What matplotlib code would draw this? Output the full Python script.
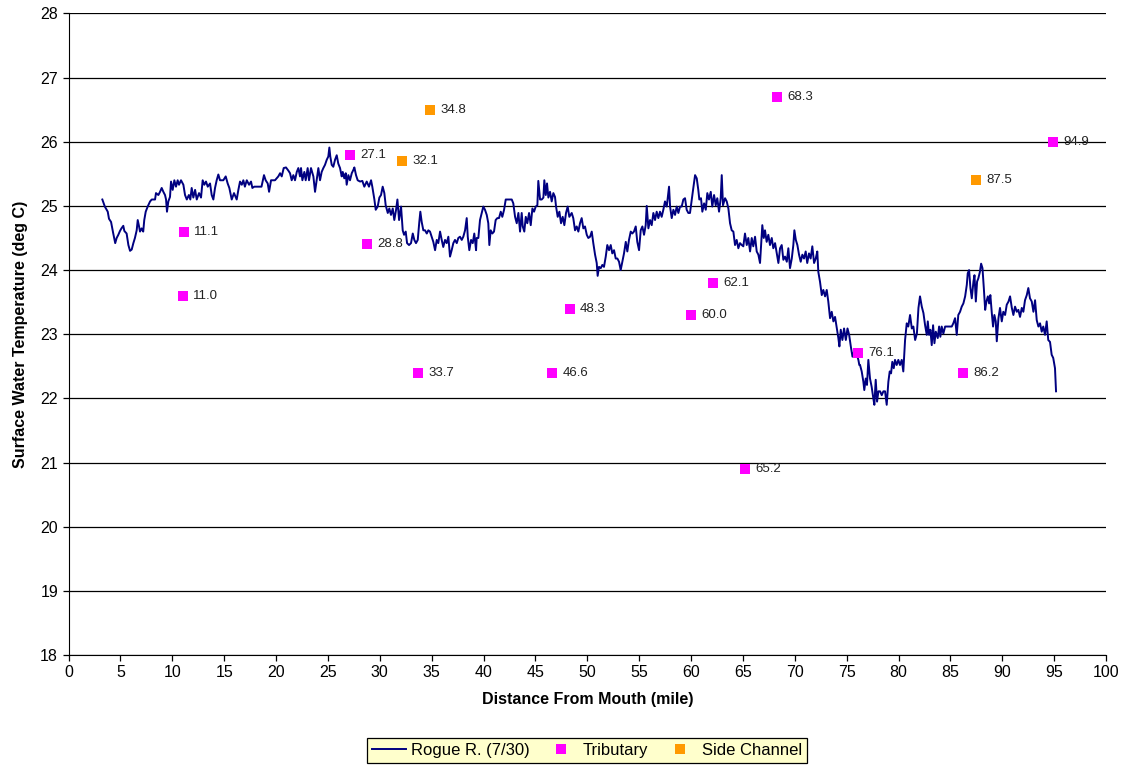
import matplotlib
matplotlib.use('Agg')
import matplotlib.pyplot as plt

plt.rcParams['font.family'] = ['Liberation Sans', 'DejaVu Sans']

# Rogue R. (7/30) longitudinal temperature trace
river_mile = [
    3.26, 3.50, 3.78, 3.90, 4.10, 4.30, 4.50, 4.64, 4.80, 4.96, 5.10, 5.28, 5.38, 5.60, 5.77, 5.93,
    6.09, 6.25, 6.40, 6.57, 6.67, 6.80, 6.89, 7.05, 7.20, 7.30, 7.44, 7.63, 7.86, 8.02, 8.34, 8.43,
    8.66, 8.82, 8.98, 9.14, 9.30, 9.40, 9.49, 9.62, 9.78, 9.88, 10.04, 10.20, 10.36, 10.52, 10.65,
    10.84, 11.07, 11.23, 11.40, 11.60, 11.74, 11.87, 12.03, 12.20, 12.36, 12.58, 12.77, 12.93, 13.09,
    13.25, 13.42, 13.64, 13.80, 13.96, 14.12, 14.28, 14.44, 14.60, 14.92, 15.15, 15.34, 15.50, 15.73,
    15.95, 16.21, 16.37, 16.53, 16.70, 16.85, 17.00, 17.18, 17.40, 17.59, 17.72, 17.90, 18.30, 18.60,
    18.84, 19.00, 19.20, 19.33, 19.52, 19.90, 20.22, 20.39, 20.55, 20.74, 20.96, 21.19,
    21.35, 21.51, 21.67, 21.83, 22.00, 22.15, 22.31, 22.41, 22.54, 22.73, 22.86, 23.05, 23.18, 23.37,
    23.60, 23.76, 23.92, 24.08, 24.24, 24.40, 24.56, 24.72, 24.89, 25.04, 25.14, 25.23, 25.37, 25.52,
    25.69, 25.85, 26.00, 26.17, 26.33, 26.43, 26.58, 26.72, 26.81, 26.97, 27.13, 27.30, 27.45, 27.55,
    27.71, 27.87, 28.10, 28.32, 28.51, 28.74, 28.96, 29.16, 29.28, 29.48, 29.61, 29.80, 29.96, 30.12,
    30.28, 30.44, 30.57, 30.77, 30.92, 31.08, 31.25, 31.40, 31.57, 31.70, 31.86, 32.05, 32.21, 32.34,
    32.50, 32.63, 32.82, 33.01, 33.18, 33.33, 33.49, 33.66, 33.81, 33.91, 34.04, 34.20, 34.36, 34.53,
    34.68, 34.84, 35.00, 35.16, 35.33, 35.49, 35.64, 35.81, 35.97, 36.12, 36.29, 36.45, 36.61, 36.77,
    36.93, 37.09, 37.25, 37.42, 37.57, 37.73, 37.90, 38.05, 38.22, 38.38, 38.48, 38.63, 38.80, 38.96,
    39.11, 39.28,
    39.34, 39.50, 39.66, 39.83, 39.98, 40.14, 40.31, 40.46, 40.56, 40.69, 40.85, 41.01, 41.17, 41.33,
    41.49, 41.66, 41.81, 41.98, 42.14, 42.39, 42.72, 42.87, 43.04, 43.20, 43.36, 43.52, 43.68, 43.78,
    43.93, 44.07, 44.22, 44.39, 44.55, 44.71, 44.87, 45.03, 45.19, 45.28, 45.45, 45.61, 45.77, 45.86,
    46.00, 46.12, 46.25, 46.41, 46.57, 46.73, 46.89, 46.99, 47.15, 47.31, 47.47, 47.63, 47.79, 47.95,
    48.11, 48.27, 48.50, 48.65, 48.82, 48.98, 49.14, 49.30, 49.46, 49.62, 49.78, 49.95, 50.10, 50.27,
    50.43, 50.58, 50.75, 50.91, 51.00, 51.13, 51.30, 51.45, 51.61, 51.78, 51.93, 52.10, 52.26, 52.41,
    52.58, 52.74, 52.90, 53.06, 53.22, 53.38, 53.54, 53.71, 53.86, 54.02, 54.19, 54.34, 54.50, 54.67,
    54.82, 54.99, 55.15, 55.31, 55.47, 55.63, 55.73, 55.89, 56.05, 56.21, 56.37, 56.53, 56.69, 56.85,
    57.01, 57.17, 57.33,
    57.49, 57.66, 57.75, 57.88, 57.98, 58.14, 58.30, 58.46, 58.62, 58.78, 58.94, 59.10, 59.26, 59.42,
    59.58, 59.74, 59.90, 60.07, 60.22, 60.39, 60.55, 60.70, 60.80, 60.96, 61.09, 61.26, 61.42, 61.57,
    61.73, 61.90, 62.05, 62.22, 62.38, 62.53, 62.70, 62.86, 62.96, 63.08, 63.28, 63.44, 63.60, 63.76,
    63.92, 64.08, 64.24, 64.40, 64.56, 64.72, 64.89, 65.04, 65.20, 65.37, 65.52, 65.69, 65.85, 66.00,
    66.17, 66.33, 66.49, 66.65, 66.75, 66.87, 67.01, 67.13, 67.29, 67.45, 67.61, 67.78, 67.93, 68.10,
    68.26, 68.42, 68.58, 68.74, 68.90, 69.06, 69.23, 69.38, 69.54, 69.71, 69.86, 69.96, 70.10, 70.25,
    70.41, 70.57, 70.73, 70.89, 71.05, 71.20, 71.37, 71.53, 71.69, 71.86, 72.02, 72.17, 72.27, 72.43,
    72.60, 72.75, 72.92, 73.08, 73.23, 73.40, 73.56, 73.72, 73.88, 74.05, 74.20, 74.30, 74.43, 74.59,
    74.75, 74.92, 75.08, 75.24, 75.40, 75.56, 75.72, 75.89, 76.13, 76.22,
    76.29, 76.45, 76.61, 76.70, 76.84, 76.96, 77.09, 77.25, 77.41, 77.57, 77.67, 77.80, 77.93, 78.06,
    78.22, 78.38, 78.54, 78.70, 78.86, 79.02, 79.15, 79.28, 79.40, 79.54, 79.66, 79.82, 79.98, 80.14,
    80.31, 80.46, 80.63, 80.79, 80.94, 81.11, 81.28, 81.43, 81.60, 81.77, 81.92, 82.07, 82.24, 82.40,
    82.56, 82.72, 82.82, 82.94, 83.07, 83.20, 83.33, 83.46, 83.59, 83.78, 83.91, 84.03, 84.16, 84.32,
    84.49, 84.80, 85.13, 85.28, 85.45, 85.61, 85.76, 85.93, 86.09, 86.25, 86.42, 86.58, 86.67, 86.80,
    86.93, 87.06, 87.22, 87.32, 87.45, 87.57, 87.69, 87.84, 87.96, 88.09, 88.22, 88.35, 88.47, 88.61,
    88.73, 88.85, 88.99, 89.11, 89.24, 89.37, 89.47, 89.63, 89.78, 89.95, 90.10, 90.27, 90.43, 90.60,
    90.75, 90.92, 91.07, 91.23, 91.40, 91.55, 91.71, 91.88, 92.03, 92.19, 92.36, 92.51, 92.67, 92.84,
    93.00, 93.16, 93.32, 93.48, 93.64, 93.80, 93.95, 94.12, 94.28, 94.43, 94.60, 94.76, 94.91, 95.08,
    95.18,
]
river_temp = [
    25.10, 24.99, 24.91, 24.80, 24.75, 24.58, 24.42, 24.50, 24.55, 24.61, 24.65, 24.69, 24.61, 24.57, 24.39, 24.30,
    24.32, 24.42, 24.50, 24.62, 24.78, 24.68, 24.60, 24.65, 24.60, 24.78, 24.91, 24.99, 25.07, 25.10, 25.10, 25.20,
    25.17, 25.22, 25.28, 25.22, 25.17, 25.10, 24.91, 25.07, 25.14, 25.38, 25.25, 25.40, 25.30, 25.40, 25.33,
    25.40, 25.33, 25.17, 25.10, 25.17, 25.10, 25.28, 25.13, 25.25, 25.10, 25.20, 25.13, 25.40, 25.33,
    25.38, 25.30, 25.35, 25.17, 25.10, 25.28, 25.40, 25.49, 25.40, 25.40, 25.46, 25.35, 25.28, 25.10,
    25.20, 25.10, 25.25, 25.38, 25.33, 25.40, 25.30, 25.40, 25.33, 25.38, 25.28, 25.30, 25.30, 25.30,
    25.48, 25.40, 25.35, 25.22, 25.40, 25.40, 25.46, 25.51, 25.46, 25.59, 25.60, 25.55,
    25.51, 25.40, 25.48, 25.40, 25.53, 25.59, 25.46, 25.59, 25.40, 25.53, 25.40, 25.59, 25.40, 25.59,
    25.46, 25.22, 25.40, 25.59, 25.40, 25.53, 25.59, 25.64, 25.72, 25.77, 25.91, 25.77, 25.64, 25.61,
    25.72, 25.79, 25.66, 25.59, 25.46, 25.53, 25.43, 25.51, 25.33, 25.48, 25.40, 25.51, 25.56, 25.60,
    25.48, 25.40, 25.38, 25.39, 25.30, 25.38, 25.30, 25.40, 25.30, 25.10, 24.94, 24.99, 25.13, 25.17,
    25.30, 25.20, 25.01, 24.89, 24.96, 24.86, 24.96, 24.78, 24.94, 25.10, 24.78, 24.99, 24.62, 24.55,
    24.60, 24.42, 24.39, 24.42, 24.57, 24.47, 24.42, 24.47, 24.75, 24.91, 24.75, 24.62, 24.62, 24.57,
    24.62, 24.60, 24.52, 24.44, 24.31, 24.47, 24.42, 24.60, 24.47, 24.36, 24.47, 24.42, 24.52, 24.21,
    24.31, 24.42, 24.47, 24.42, 24.50, 24.52, 24.47, 24.52, 24.62, 24.81, 24.52, 24.31, 24.47, 24.42,
    24.57, 24.31,
    24.50, 24.50, 24.78, 24.89, 24.99, 24.94, 24.86, 24.73, 24.39, 24.62, 24.57, 24.60, 24.78, 24.81,
    24.81, 24.91, 24.83, 24.94, 25.10, 25.10, 25.10, 25.04, 24.83, 24.73, 24.89, 24.60, 24.89, 24.68,
    24.60, 24.83, 24.73, 24.89, 24.70, 24.96, 24.91, 24.99, 25.01, 25.39, 25.10, 25.10, 25.13, 25.40,
    25.17, 25.35, 25.13, 25.22, 25.07, 25.20, 25.14, 24.99, 24.83, 24.91, 24.73, 24.83, 24.70, 24.89,
    24.99, 24.83, 24.89, 24.81, 24.62, 24.68, 24.60, 24.73, 24.81, 24.65, 24.68, 24.55, 24.50, 24.52,
    24.60, 24.42, 24.24, 24.11, 23.91, 24.05, 24.03, 24.08, 24.05, 24.21, 24.39, 24.31, 24.39, 24.26,
    24.31, 24.18, 24.18, 24.13, 24.00, 24.13, 24.26, 24.44, 24.29, 24.47, 24.60, 24.57, 24.60, 24.68,
    24.44, 24.31, 24.62, 24.68, 24.55, 24.70, 25.00, 24.65, 24.78, 24.70, 24.89, 24.78, 24.91, 24.81,
    24.91, 24.83, 24.94,
    25.07, 24.99, 25.12, 25.30, 24.99, 24.81, 24.94, 24.86, 24.99, 24.89, 24.99, 24.99, 25.10, 25.12,
    24.94, 24.89, 24.89, 25.10, 25.28, 25.48, 25.43, 25.25, 25.10, 25.12, 24.91, 25.04, 24.94, 25.20,
    25.10, 25.22, 24.99, 25.17, 25.01, 25.12, 24.91, 25.12, 25.48, 25.01, 25.12, 25.07, 24.96, 24.73,
    24.62, 24.60, 24.39, 24.47, 24.34, 24.42, 24.39, 24.37, 24.57, 24.39, 24.50, 24.29, 24.50, 24.37,
    24.52, 24.29, 24.24, 24.11, 24.39, 24.70, 24.50, 24.62, 24.44, 24.55, 24.39, 24.50, 24.34, 24.42,
    24.26, 24.11, 24.34, 24.39, 24.16, 24.21, 24.13, 24.34, 24.03, 24.18, 24.39, 24.62, 24.47, 24.39,
    24.24, 24.13, 24.24, 24.18, 24.29, 24.11, 24.26, 24.18, 24.37, 24.11, 24.18, 24.29, 23.97, 23.82,
    23.61, 23.69, 23.59, 23.69, 23.51, 23.25, 23.35, 23.20, 23.27, 23.09, 22.94, 22.81, 23.07, 22.91,
    23.09, 22.91, 23.09, 22.99, 22.81, 22.65, 22.73, 22.73, 22.60, 22.52,
    22.52, 22.42, 22.26, 22.13, 22.31, 22.21, 22.60, 22.31, 22.18, 22.00, 21.90, 22.29, 21.95, 22.11,
    22.11, 22.05, 22.11, 22.11, 21.90, 22.26, 22.42, 22.39, 22.57, 22.47, 22.60, 22.52, 22.60, 22.52,
    22.60, 22.42, 22.91, 23.17, 23.12, 23.30, 23.09, 23.12, 22.91, 23.01, 23.41, 23.59, 23.43, 23.33,
    23.14, 22.99, 23.20, 22.99, 23.07, 22.83, 23.14, 22.86, 23.04, 22.94, 23.12, 22.96, 23.12, 23.01,
    23.12, 23.12, 23.12, 23.17, 23.25, 22.99, 23.30, 23.35, 23.43, 23.48, 23.59, 23.77, 23.95, 24.00,
    23.72, 23.56, 23.82, 23.92, 23.51, 23.82, 23.87, 23.97, 24.10, 24.03, 23.72, 23.38, 23.51, 23.59,
    23.48, 23.61, 23.33, 23.12, 23.30, 23.20, 22.89, 23.25, 23.41, 23.20, 23.35, 23.30, 23.46, 23.51,
    23.59, 23.41, 23.30, 23.43, 23.35, 23.38, 23.27, 23.41, 23.35, 23.53, 23.61, 23.72, 23.56, 23.51,
    23.35, 23.53, 23.22, 23.12, 23.17, 23.04, 23.12, 22.99, 23.20, 22.91, 22.88, 22.68, 22.63, 22.47,
    22.11,
]

# tributary and side channel spot measurements (label = river mile)
trib_mile = [11.1, 11.0, 27.1, 28.8, 33.7, 46.6, 48.3, 60.0, 62.1, 65.2, 68.3, 76.1, 86.2, 94.9]
trib_temp = [24.6, 23.6, 25.8, 24.4, 22.4, 22.4, 23.4, 23.3, 23.8, 20.9, 26.7, 22.7, 22.4, 26.0]
side_mile = [34.8, 32.1, 87.5]
side_temp = [26.5, 25.7, 25.4]

fig = plt.figure(figsize=(11.27, 7.65), dpi=100)
ax = fig.add_axes([0.0608, 0.1438, 0.9206, 0.8386])

ax.plot(river_mile, river_temp, color='#000080', lw=1.4, label='Rogue R. (7/30)', zorder=3)
ax.plot(trib_mile, trib_temp, 's', color='#FF00FF', ms=6.5, mew=0, label='Tributary', zorder=4)
ax.plot(side_mile, side_temp, 's', color='#FF9900', ms=6.5, mew=0, label='Side Channel', zorder=4)

for m, t in zip(trib_mile + side_mile, trib_temp + side_temp):
    ax.annotate('%.1f' % m, (m, t), xytext=(7.5, 0), textcoords='offset points',
                va='center', ha='left', fontsize=9.5, color='#222222')

ax.set_xlim(0, 100)
ax.set_ylim(18, 28)
ax.set_xticks(range(0, 101, 5))
ax.set_yticks(range(18, 29))
ax.yaxis.grid(True, color='black', lw=0.9)
ax.set_axisbelow(True)
ax.spines['top'].set_visible(False)
ax.spines['right'].set_visible(False)
ax.tick_params(direction='out', length=4, labelsize=11.5, width=0.9)
ax.set_xlabel('Distance From Mouth (mile)', fontsize=11.5, fontweight='bold', labelpad=8)
ax.set_ylabel('Surface Water Temperature (deg C)', fontsize=11.5, fontweight='bold', labelpad=9)

leg = fig.legend(loc='upper center', bbox_to_anchor=(0.521, 0.035), ncol=3, fontsize=12,
                 frameon=True, fancybox=False, facecolor='#FFFFCC', edgecolor='black',
                 handlelength=2.0, columnspacing=0.9, borderpad=0.3, handletextpad=0.3,
                 borderaxespad=0.0)
leg.get_frame().set_linewidth(0.9)
leg.get_frame().set_alpha(1)

fig.savefig('out.png', dpi=100)
